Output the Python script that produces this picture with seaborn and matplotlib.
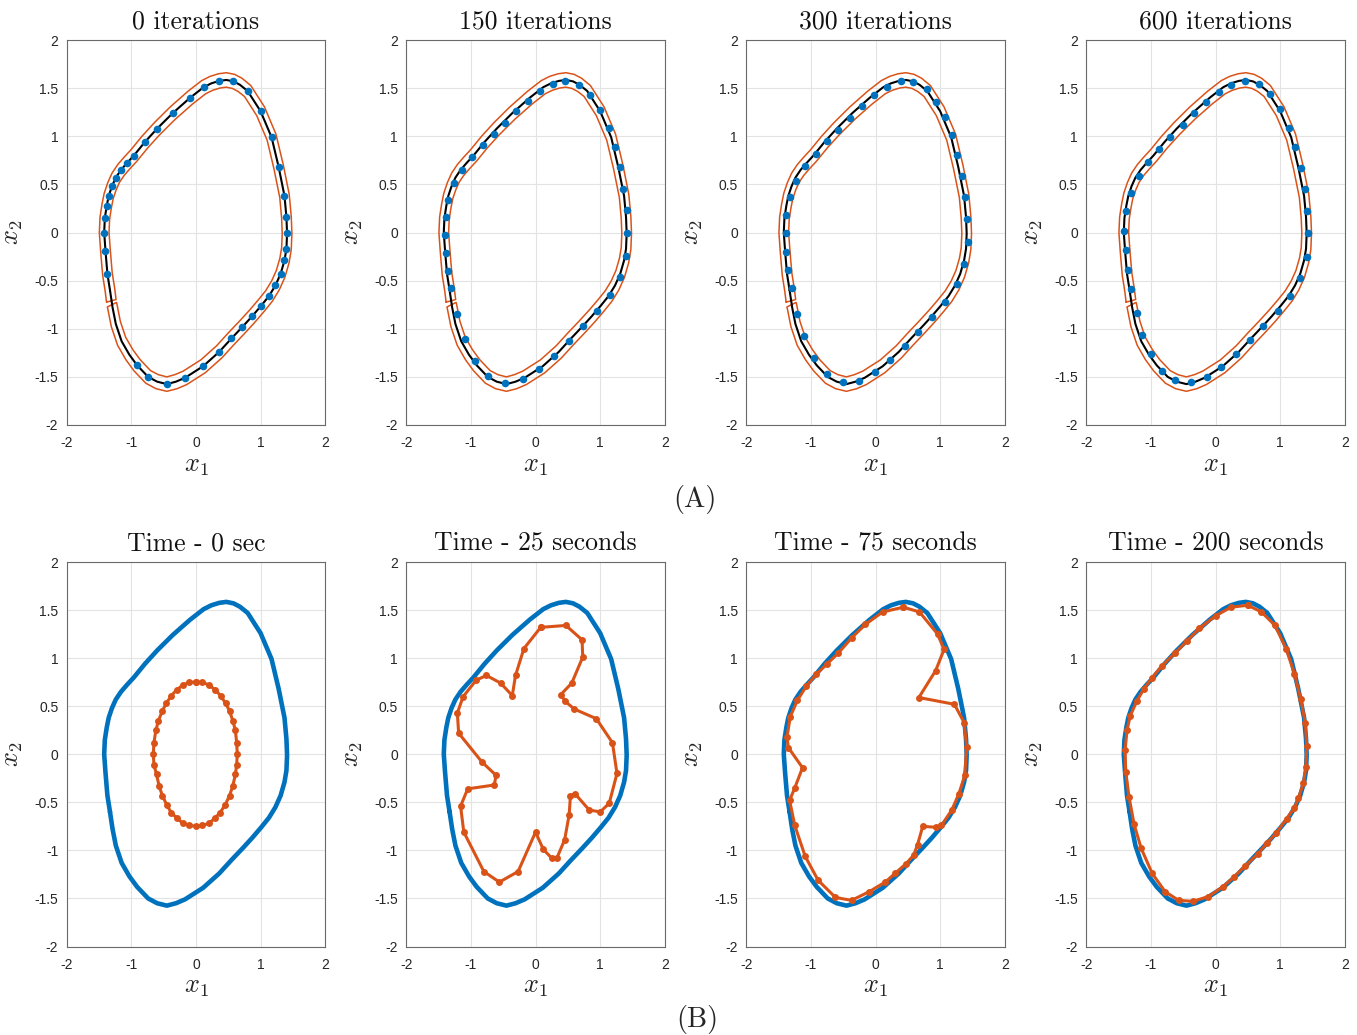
import numpy as np
import pandas as pd
import seaborn as sns
import matplotlib.pyplot as plt

# reference limit cycle (clockwise, starting just above the tube break)
lc_x = [-1.33, -1.37, -1.40, -1.42, -1.41, -1.38, -1.35, -1.30, -1.24, -1.16, -1.07, -0.96, -0.79, -0.60,
        -0.36, -0.09, 0.12, 0.24, 0.36, 0.47, 0.58, 0.68, 0.80, 1.00, 1.17, 1.28, 1.37, 1.40, 1.41, 1.40, 1.37,
        1.31, 1.23, 1.13, 1.01, 0.87, 0.72, 0.55, 0.36, 0.11, -0.17, -0.31, -0.45, -0.60, -0.74, -0.91, -1.03,
        -1.15, -1.24, -1.29]
lc_y = [-0.60, -0.43, -0.19, 0.00, 0.15, 0.28, 0.38, 0.48, 0.57, 0.65, 0.72, 0.80, 0.94, 1.08,
        1.24, 1.40, 1.51, 1.55, 1.575, 1.585, 1.57, 1.535, 1.47, 1.26, 0.99, 0.68, 0.38, 0.16, -0.01, -0.17, -0.29,
        -0.43, -0.55, -0.66, -0.76, -0.87, -0.98, -1.10, -1.24, -1.39, -1.51, -1.55, -1.575, -1.55, -1.50, -1.38,
        -1.27, -1.13, -0.95, -0.78]
tube_start = (-1.31, -0.71)
tube_end = (-1.30, -0.75)
tube_radius = 0.075

# (A) sample points after n iterations
it0_x = [0.35, 0.58, 0.80, 1.00, 1.17, 1.28, 1.37, 1.40, 1.41, 1.40, 1.37, 1.31, 1.23, 1.13, 1.01, 0.87, 0.72,
         0.55, 0.36, 0.11, -0.17, -0.45, -0.74, -0.91, -1.37, -1.40, -1.42, -1.41, -1.38, -1.35, -1.30, -1.24,
         -1.16, -1.07, -0.96, -0.79, -0.60, -0.36, -0.09, 0.12]
it0_y = [1.57, 1.57, 1.47, 1.26, 0.99, 0.68, 0.38, 0.16, -0.01, -0.17, -0.29, -0.43, -0.55, -0.66, -0.76, -0.87,
         -0.98, -1.10, -1.24, -1.39, -1.51, -1.57, -1.50, -1.38, -0.43, -0.19, 0.00, 0.15, 0.28, 0.38, 0.48, 0.57,
         0.65, 0.72, 0.80, 0.94, 1.08, 1.24, 1.40, 1.51]
it150_x = [0.45, 0.67, 0.85, 1.00, 1.13, 1.23, 1.30, 1.36, 1.41, 1.42, 1.40, 1.30, 1.15, 0.95, 0.73, 0.52, 0.29,
           0.05, -0.20, -0.47, -0.73, -0.93, -1.09, -1.22, -1.31, -1.35, -1.38, -1.40, -1.39, -1.35, -1.26, -1.14,
           -0.99, -0.81, -0.65, -0.47, -0.30, -0.12, 0.07, 0.27]
it150_y = [1.57, 1.53, 1.43, 1.27, 1.09, 0.89, 0.68, 0.45, 0.23, 0.00, -0.24, -0.46, -0.65, -0.82, -0.97, -1.13,
           -1.28, -1.42, -1.52, -1.56, -1.49, -1.33, -1.11, -0.85, -0.58, -0.40, -0.21, -0.03, 0.16, 0.34, 0.51, 0.65,
           0.78, 0.91, 1.02, 1.14, 1.26, 1.37, 1.47, 1.54]
it300_x = [0.39, 0.58, 0.79, 0.94, 1.07, 1.18, 1.26, 1.34, 1.39, 1.42, 1.43, 1.37, 1.26, 1.08, 0.87, 0.66, 0.45,
           0.23, -0.01, -0.25, -0.51, -0.75, -0.95, -1.10, -1.22, -1.30, -1.35, -1.38, -1.39, -1.38, -1.33, -1.23,
           -1.09, -0.92, -0.75, -0.58, -0.40, -0.21, -0.02, 0.17]
it300_y = [1.57, 1.56, 1.49, 1.36, 1.20, 1.01, 0.81, 0.59, 0.37, 0.14, -0.10, -0.33, -0.54, -0.72, -0.88, -1.03,
           -1.18, -1.32, -1.45, -1.54, -1.55, -1.47, -1.30, -1.08, -0.85, -0.58, -0.39, -0.20, -0.01, 0.18, 0.37, 0.54,
           0.69, 0.82, 0.95, 1.07, 1.19, 1.31, 1.43, 1.51]
it600_x = [0.45, 0.67, 0.85, 1.00, 1.13, 1.23, 1.32, 1.38, 1.42, 1.43, 1.41, 1.30, 1.15, 0.96, 0.74, 0.54, 0.32,
           0.09, -0.14, -0.38, -0.62, -0.83, -1.00, -1.14, -1.22, -1.31, -1.36, -1.39, -1.41, -1.39, -1.31, -1.19,
           -1.04, -0.88, -0.70, -0.51, -0.33, -0.15, 0.05, 0.24]
it600_y = [1.57, 1.54, 1.44, 1.28, 1.09, 0.89, 0.67, 0.45, 0.22, -0.01, -0.25, -0.47, -0.66, -0.82, -0.97, -1.12,
           -1.26, -1.40, -1.50, -1.55, -1.53, -1.44, -1.26, -1.06, -0.84, -0.59, -0.39, -0.18, 0.02, 0.22, 0.41, 0.59,
           0.73, 0.87, 0.99, 1.12, 1.24, 1.36, 1.46, 1.53]

# (B) particle positions over time
t0_x = [0.00, 0.10, 0.20, 0.30, 0.38, 0.46, 0.52, 0.57, 0.61, 0.63, 0.64, 0.63, 0.61, 0.57, 0.52, 0.45, 0.37,
        0.30, 0.20, 0.10, 0.00, -0.10, -0.20, -0.30, -0.38, -0.45, -0.52, -0.57, -0.61, -0.65, -0.66, -0.65,
        -0.62, -0.58, -0.52, -0.46, -0.38, -0.30, -0.20, -0.10]
t0_y = [0.75, 0.75, 0.72, 0.67, 0.61, 0.53, 0.45, 0.35, 0.25, 0.12, 0.00, -0.11, -0.21, -0.33, -0.43, -0.53,
        -0.61, -0.66, -0.72, -0.74, -0.75, -0.74, -0.72, -0.66, -0.61, -0.53, -0.43, -0.33, -0.21, -0.11, 0.00,
        0.12, 0.25, 0.35, 0.45, 0.53, 0.61, 0.67, 0.72, 0.75]
t25_x = [0.08, 0.47, 0.72, 0.73, 0.56, 0.39, 0.46, 0.60, 0.94, 1.19, 1.26, 1.14, 1.00, 0.83, 0.61, 0.54, 0.52,
         0.45, 0.33, 0.25, 0.12, 0.00, -0.27, -0.56, -0.80, -1.11, -1.16, -1.05, -0.64, -0.61, -0.83, -1.19,
         -1.21, -1.12, -0.92, -0.76, -0.54, -0.36, -0.31, -0.18]
t25_y = [1.32, 1.34, 1.19, 1.01, 0.74, 0.62, 0.55, 0.47, 0.37, 0.12, -0.20, -0.51, -0.60, -0.58, -0.41, -0.43,
         -0.63, -0.89, -1.08, -1.08, -0.99, -0.81, -1.22, -1.33, -1.22, -0.81, -0.54, -0.36, -0.32, -0.22, -0.08,
         0.22, 0.43, 0.60, 0.77, 0.82, 0.74, 0.61, 0.82, 1.10]
t75_x = [0.43, 0.68, 0.96, 1.06, 0.93, 0.67, 1.22, 1.37, 1.41, 1.38, 1.29, 1.18, 1.02, 0.94, 0.73, 0.65, 0.59,
         0.47, 0.30, 0.15, -0.10, -0.37, -0.62, -0.89, -1.09, -1.25, -1.33, -1.25, -1.13, -1.35, -1.37, -1.32,
         -1.21, -1.07, -0.92, -0.75, -0.58, -0.37, -0.16, 0.11]
t75_y = [1.53, 1.48, 1.25, 1.09, 0.87, 0.59, 0.52, 0.33, 0.08, -0.22, -0.41, -0.58, -0.74, -0.76, -0.75, -0.94,
         -1.05, -1.14, -1.24, -1.33, -1.43, -1.52, -1.49, -1.31, -1.06, -0.74, -0.48, -0.35, -0.14, 0.07, 0.18,
         0.39, 0.56, 0.71, 0.83, 0.94, 1.05, 1.21, 1.35, 1.48]
t200_x = [0.50, 0.71, 0.92, 1.09, 1.22, 1.32, 1.39, 1.41, 1.40, 1.36, 1.28, 1.22, 1.10, 0.94, 0.80, 0.65, 0.46,
          0.28, 0.11, -0.11, -0.35, -0.57, -0.78, -0.98, -1.15, -1.26, -1.34, -1.39, -1.40, -1.37, -1.32, -1.22,
          -1.11, -0.99, -0.83, -0.63, -0.44, -0.25, 0.00, 0.24]
t200_y = [1.55, 1.48, 1.34, 1.10, 0.84, 0.57, 0.32, 0.09, -0.13, -0.30, -0.46, -0.56, -0.67, -0.82, -0.92, -1.04,
          -1.16, -1.28, -1.38, -1.48, -1.53, -1.52, -1.43, -1.24, -0.98, -0.73, -0.44, -0.18, 0.04, 0.25, 0.40,
          0.55, 0.68, 0.79, 0.92, 1.05, 1.18, 1.31, 1.44, 1.53]

top_titles = ["0 iterations", "150 iterations", "300 iterations", "600 iterations"]
bottom_titles = ["Time - 0 sec", "Time - 25 seconds", "Time - 75 seconds", "Time - 200 seconds"]
top_dots = [(it0_x, it0_y), (it150_x, it150_y), (it300_x, it300_y), (it600_x, it600_y)]
bottom_pts = [(t0_x, t0_y), (t25_x, t25_y), (t75_x, t75_y), (t200_x, t200_y)]

BLUE = "#0072BD"
ORANGE = "#D95319"
SERIF = "cmr10"

sns.set_theme(style="whitegrid")
plt.rcParams["font.family"] = ["Liberation Sans", "DejaVu Sans"]
plt.rcParams["mathtext.fontset"] = "cm"
plt.rcParams["axes.unicode_minus"] = False


def offset_curve(x, y, d):
    x = np.asarray(x, dtype=float)
    y = np.asarray(y, dtype=float)
    dx = np.gradient(x)
    dy = np.gradient(y)
    n = np.hypot(dx, dy)
    return x + d * dy / n, y - d * dx / n


def closed(x, y):
    return list(x) + [x[0]], list(y) + [y[0]]


def style_axes(ax, title):
    ax.set_xlim(-2, 2)
    ax.set_ylim(-2, 2)
    ax.set_xticks([-2, -1, 0, 1, 2])
    ax.set_xticklabels(["-2", "-1", "0", "1", "2"])
    ax.set_yticks([-2, -1.5, -1, -0.5, 0, 0.5, 1, 1.5, 2])
    ax.set_yticklabels(["-2", "-1.5", "-1", "-0.5", "0", "0.5", "1", "1.5", "2"])
    ax.tick_params(length=0, labelsize=10, labelcolor="#262626")
    ax.tick_params(axis="x", pad=8)
    ax.tick_params(axis="y", pad=6)
    ax.grid(True, color="#e3e3e3", linewidth=0.8)
    for s in ax.spines.values():
        s.set_color("#6a6a6a")
        s.set_linewidth(0.8)
    ax.set_xlabel(r"$x_1$", fontsize=19, color="#262626")
    ax.set_ylabel(r"$x_2$", fontsize=19, color="#262626")
    ax.xaxis.set_label_coords(0.5, -0.075)
    ax.yaxis.set_label_coords(-0.16, 0.5)
    ax.set_title(title, fontfamily=SERIF, fontsize=18.5, pad=8, color="#111111")


fig = plt.figure(figsize=(13.57, 10.35), dpi=100)
W, H = 1357.0, 1035.0
lefts = [66.7, 406.3, 746.3, 1086.3]
aw = 258.5

# tube around the reference cycle
tx = [tube_start[0]] + lc_x + [tube_end[0]]
ty = [tube_start[1]] + lc_y + [tube_end[1]]
in_x, in_y = offset_curve(tx, ty, tube_radius)
out_x, out_y = offset_curve(tx, ty, -tube_radius)
tube_x = list(out_x) + list(in_x[::-1]) + [out_x[0]]
tube_y = list(out_y) + list(in_y[::-1]) + [out_y[0]]
cyc_x, cyc_y = closed(lc_x, lc_y)

for i in range(4):
    ax = fig.add_axes([lefts[i] / W, 1 - 425 / H, aw / W, 385 / H])
    ax.plot(tube_x, tube_y, color=ORANGE, lw=1.1, zorder=2)
    sns.lineplot(x=cyc_x, y=cyc_y, sort=False, estimator=None, color="black", lw=1.5, ax=ax, zorder=3)
    dx, dy = top_dots[i]
    sns.scatterplot(x=dx, y=dy, color=BLUE, s=30, linewidth=0, marker="o", ax=ax, zorder=4)
    style_axes(ax, top_titles[i])

for i in range(4):
    ax = fig.add_axes([lefts[i] / W, 1 - 946.5 / H, aw / W, 384.5 / H])
    sns.lineplot(x=cyc_x, y=cyc_y, sort=False, estimator=None, color=BLUE, lw=3.3, ax=ax, zorder=2,
                 solid_joinstyle="round")
    px, py = closed(*bottom_pts[i])
    sns.lineplot(x=px, y=py, sort=False, estimator=None, color=ORANGE, lw=2.2, marker="o",
                 markersize=5, markeredgewidth=0, ax=ax, zorder=3)
    style_axes(ax, bottom_titles[i])

fig.text(695 / W, 1 - 500 / H, "(A)", fontfamily=SERIF, fontsize=20.5, ha="center", va="center")
fig.text(697 / W, 1 - 1020 / H, "(B)", fontfamily=SERIF, fontsize=20.5, ha="center", va="center")

fig.savefig("out.png", dpi=100, facecolor="white")
